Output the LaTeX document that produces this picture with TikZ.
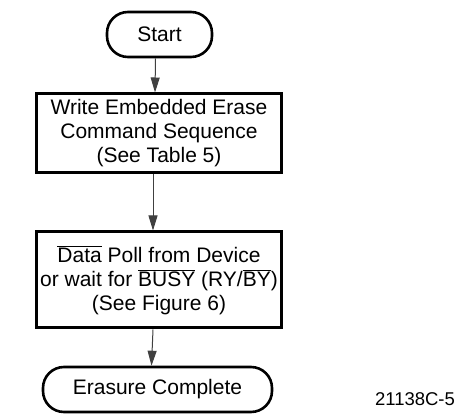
\documentclass[tikz,border=0pt]{standalone}
\usepackage{fontspec}
\setmainfont{Liberation Sans}
\usetikzlibrary{arrows.meta}
\newcommand\ovl[1]{$\overline{\mbox{#1}}$}
\begin{document}
\begin{tikzpicture}[x=1pt,y=1pt,
  every node/.style={font=\fontsize{21}{24}\selectfont, align=center, inner sep=0pt},
  terminal/.style={draw, line width=2.6pt, rounded corners=21pt, minimum height=45pt},
  stepbox/.style={draw, line width=3pt, minimum width=245pt},
  flow/.style={draw=black!75, line width=1pt, -{Triangle[length=15pt,width=9pt]}}]
\useasboundingbox (0,0) rectangle (461,-414);

\node[terminal, minimum width=105pt] (start) at (159.5,-34.5) {Start};
\node[stepbox, minimum height=79pt] (write) at (159,-133.5)
  {Write Embedded Erase\\Command Sequence\\(See Table 5)};
\node[stepbox, minimum height=96pt] (poll) at (159,-280)
  {\ovl{Data} Poll from Device\\or wait for \ovl{BUSY} (RY/\ovl{BY})\\(See Figure 6)};
\node[terminal, minimum width=229pt] (done) at (157.5,-389.5) {Erasure Complete};

\node[font=\fontsize{18.5}{22}\selectfont] (figid) at (415,-399) {21138C-5};

\draw[flow] ([xshift=-4pt]start.south) -- ([xshift=-4pt]write.north);
\draw[flow] ([xshift=-6pt]write.south) -- ([xshift=-6pt]poll.north);
\draw[flow] ([xshift=-6pt]poll.south) -- ([xshift=-6pt]done.north);
\end{tikzpicture}
\end{document}
